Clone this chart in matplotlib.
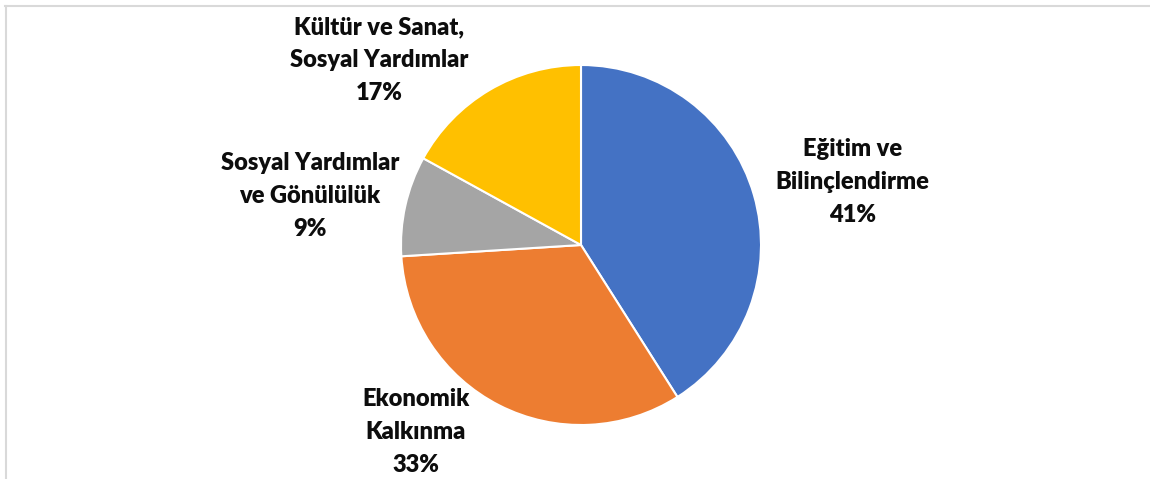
import matplotlib.pyplot as plt
from matplotlib.lines import Line2D

# veriler
labels = ["Eğitim ve\nBilinçlendirme", "Ekonomik\nKalkınma",
          "Sosyal Yardımlar\nve Gönülülük", "Kültür ve Sanat,\nSosyal Yardımlar"]
values = [41, 33, 9, 17]
colors = ["#4472C4", "#ED7D31", "#A5A5A5", "#FFC000"]

# etiket konumları (pasta yarıçapı = 1)
label_pos = [(1.506, 0.35), (-0.917, -1.039), (-1.506, 0.272), (-1.122, 1.028)]

W, H = 1150, 479
cx, cy, r = 581, 245, 180

fig = plt.figure(figsize=(W / 100, H / 100), dpi=100)
ax = fig.add_axes([0, 0, 1, 1])

ax.pie(values, colors=colors, startangle=90, counterclock=False,
       wedgeprops=dict(edgecolor="white", linewidth=1.5))

ax.set_xlim(-cx / r, (W - cx) / r)
ax.set_ylim(-(H - cy) / r, cy / r)
ax.set_aspect("equal")
ax.axis("off")

total = sum(values)
for lab, v, (x, y) in zip(labels, values, label_pos):
    ax.text(x, y, f"{lab}\n{round(100 * v / total)}%", ha="center", va="center",
            fontsize=17, fontweight="heavy", family="Lato", color="#0d0d0d",
            linespacing=1.6)

# çerçeve (üst ve sol)
fig.add_artist(Line2D([5 / W, 1], [1 - 5.5 / H, 1 - 5.5 / H], color="#D9D9D9", lw=1.5))
fig.add_artist(Line2D([5.5 / W, 5.5 / W], [0, 1 - 5.5 / H], color="#D9D9D9", lw=1.5))

fig.savefig("out.png", dpi=100)
